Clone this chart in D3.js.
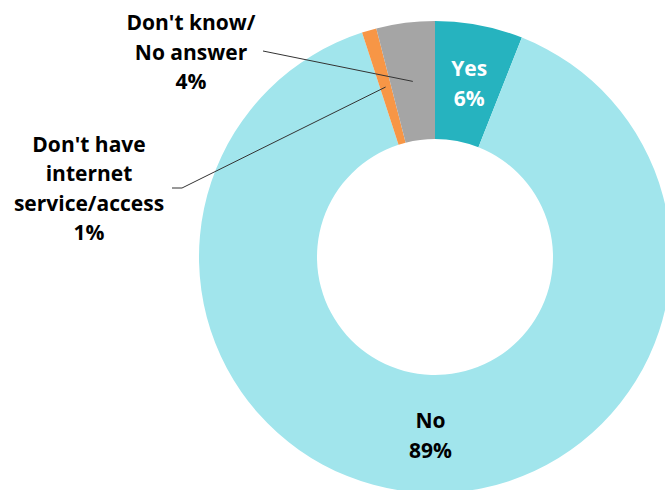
<!DOCTYPE html>
<html>
<head>
<meta charset="utf-8">
<script src="https://cdn.jsdelivr.net/npm/d3@7/dist/d3.min.js"></script>
<style>
  html, body { margin: 0; padding: 0; background: #fff; }
  svg { display: block; }
  text { font-family: "Open Sans", "Noto Sans", sans-serif; font-weight: 700; }
</style>
</head>
<body>
<svg id="chart" width="665" height="490"></svg>
<script>
// Survey answers, clockwise from 12 o'clock
const categories = ["Yes", "No", "Don't have internet service/access", "Don't know/No answer"];
const values = [6, 89, 1, 4];
const colors = ["#26B3BF", "#A1E5EC", "#F79646", "#A5A5A5"];

// Label text, line by line, for each slice
const labelLines = [
  ["Yes", "6%"],
  ["No", "89%"],
  ["Don't have", "internet", "service/access", "1%"],
  ["Don't know/", "No answer", "4%"]
];

const W = 665, H = 490;
const cx = 435, cy = 257;
const outerR = 236, innerR = 118;
const lineH = 29.5;

const svg = d3.select("#chart");
const g = svg.append("g").attr("transform", `translate(${cx},${cy})`);

const pie = d3.pie().sort(null).value(d => d.value).startAngle(0).endAngle(2 * Math.PI);
const arcs = pie(categories.map((c, i) => ({ name: c, value: values[i], color: colors[i], lines: labelLines[i] })));

const arc = d3.arc().innerRadius(innerR).outerRadius(outerR);

g.selectAll("path.slice")
  .data(arcs)
  .join("path")
  .attr("class", "slice")
  .attr("d", arc)
  .attr("fill", d => d.data.color);

// Multi-line label block, baselines centred on y
function drawLabel(parent, lines, x, y, fill) {
  const n = lines.length;
  const t = parent.append("text")
    .attr("text-anchor", "middle")
    .attr("font-size", 21)
    .attr("fill", fill);
  lines.forEach((ln, i) => {
    t.append("tspan")
      .attr("x", x)
      .attr("y", y + (i - (n - 1) / 2) * lineH)
      .text(ln);
  });
}

// Inside labels: Yes and No, at the slice centroids
const c0 = arc.centroid(arcs[0]), c1 = arc.centroid(arcs[1]);
drawLabel(g, arcs[0].data.lines, c0[0] + 1, c0[1] + 8, "#ffffff");
drawLabel(g, arcs[1].data.lines, c1[0] + 1, c1[1] + 9, "#000000");

// Outside labels with leader lines for the two thin slices
const outside = [
  { idx: 3, lx: 191 - cx, ly: 59.5 - cy, start: [263 - cx, 51 - cy], elbow: null },
  { idx: 2, lx: 89 - cx, ly: 196 - cy, start: [172 - cx, 188 - cy], elbow: [182 - cx, 188 - cy] }
];

outside.forEach(o => {
  const a = arcs[o.idx];
  const c = arc.centroid(a);
  const pts = [o.start];
  if (o.elbow) pts.push(o.elbow);
  pts.push(c);
  g.append("path")
    .attr("d", d3.line()(pts))
    .attr("fill", "none")
    .attr("stroke", "#333333")
    .attr("stroke-width", 1);
  drawLabel(g, a.data.lines, o.lx, o.ly, "#000000");
});
</script>
</body>
</html>
